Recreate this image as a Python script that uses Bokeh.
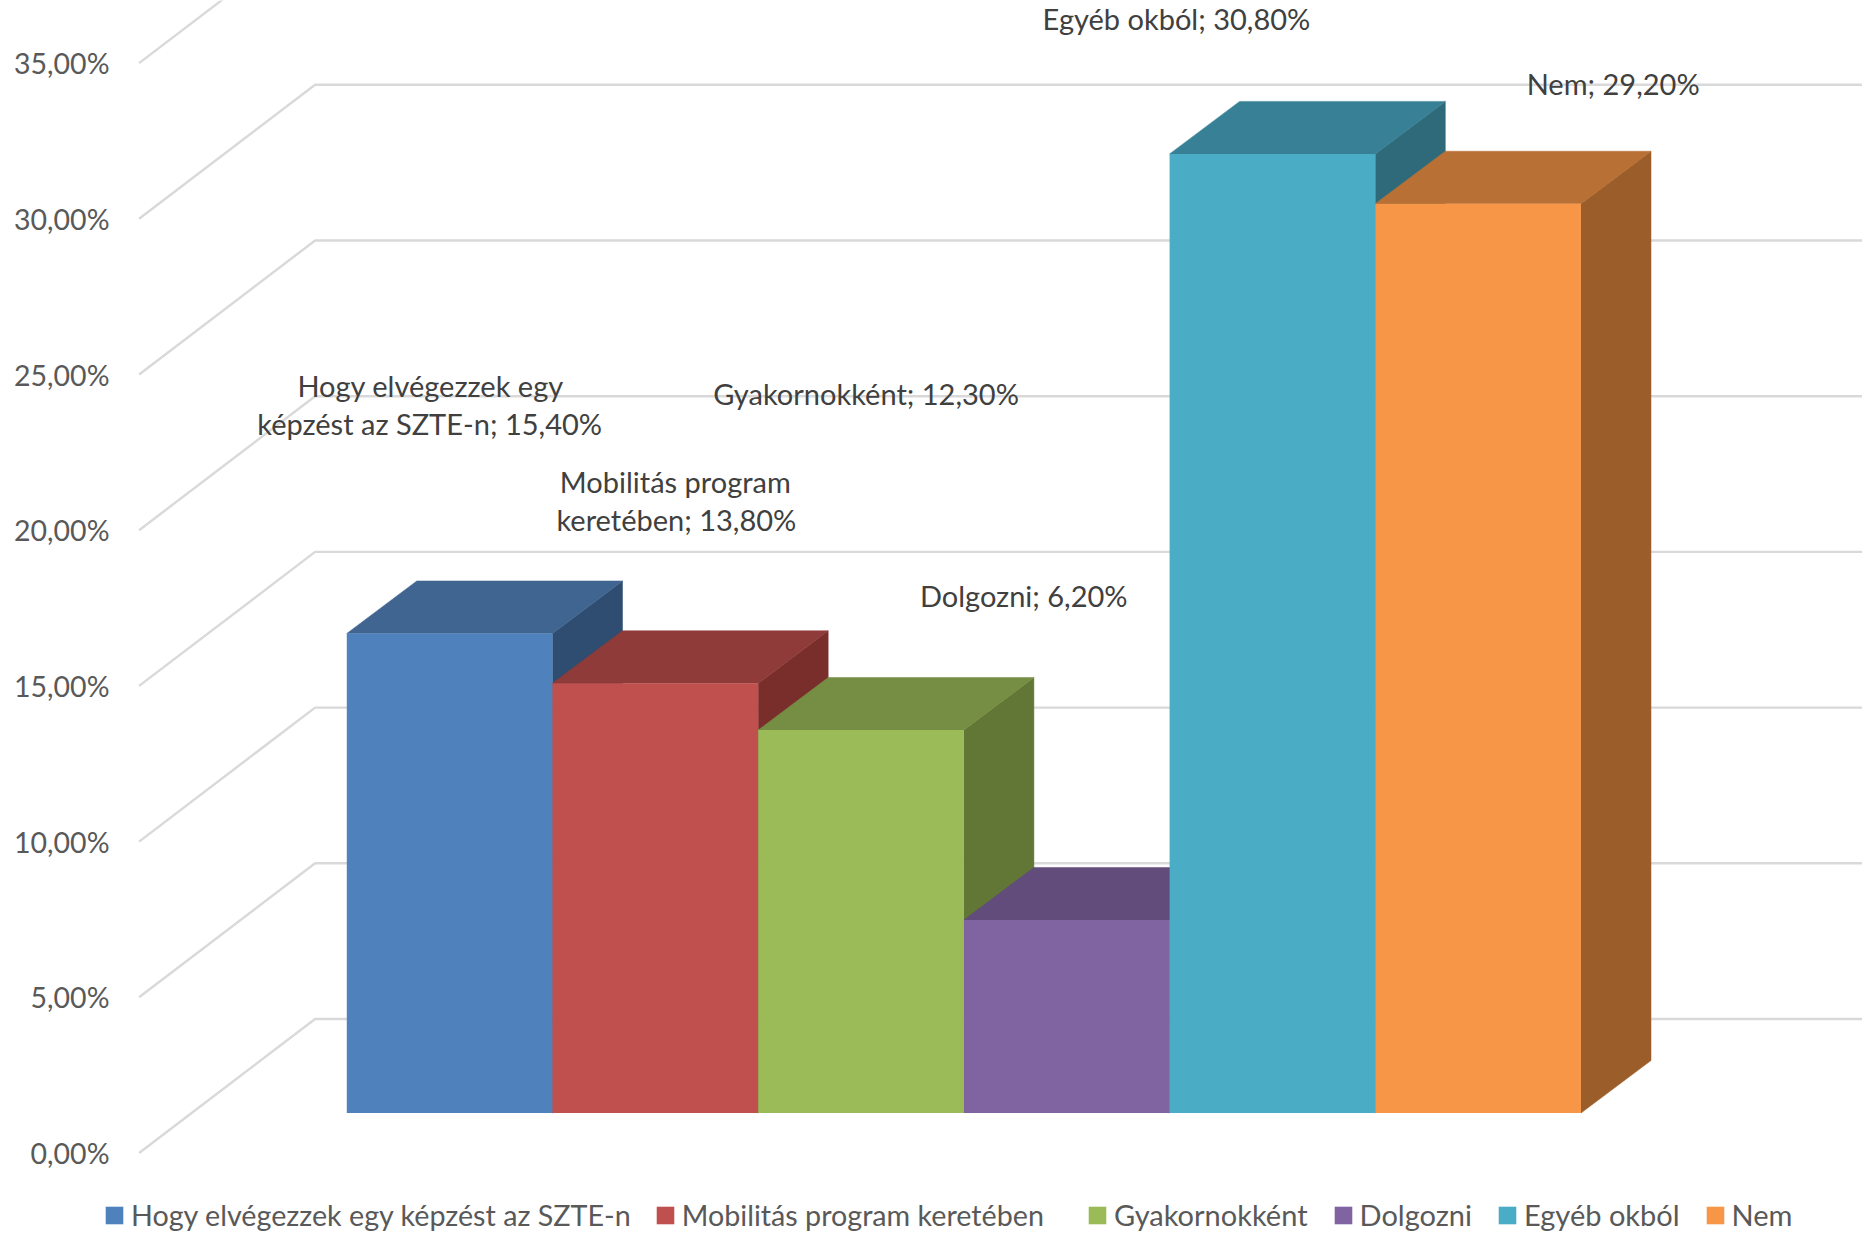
from bokeh.plotting import figure
from bokeh.models import Range1d, ColumnDataSource, Legend, LegendItem
from bokeh.core.properties import value
from bokeh.embed import file_html
from bokeh.resources import INLINE

# --- data -------------------------------------------------------------
categories = ["Hogy elvégezzek egy képzést az SZTE-n", "Mobilitás program keretében",
              "Gyakornokként", "Dolgozni", "Egyéb okból", "Nem"]
values = [15.4, 13.8, 12.3, 6.2, 30.8, 29.2]
ticks = [0, 5, 10, 15, 20, 25, 30, 35]
tick_labels = ["0,00%", "5,00%", "10,00%", "15,00%", "20,00%", "25,00%", "30,00%", "35,00%"]
label_lines = [["Hogy elvégezzek egy", "képzést az SZTE-n; 15,40%"],
               ["Mobilitás program", "keretében; 13,80%"],
               ["Gyakornokként; 12,30%"],
               ["Dolgozni; 6,20%"],
               ["Egyéb okból; 30,80%"],
               ["Nem; 29,20%"]]

# --- styles -----------------------------------------------------------
front_colors = ["#4F81BD", "#C0504D", "#9BBB59", "#8064A2", "#4BACC6", "#F79646"]
top_colors = ["#3F6590", "#8F3B39", "#768E44", "#614C7B", "#388096", "#B97034"]
side_colors = ["#2F4D71", "#7A2E2C", "#627736", "#4F3E64", "#2F6A7B", "#9B5D2A"]
FONT = "Lato"
label_offsets = [[(-19, -247.5), (-20, -210)], [(20, -201.5), (21, -163.5)], [(5, -336.5)],
                 [(-43, -324.5)], [(-96, -135.5)], [(135, -120.5)]]

# --- layout (pixels of one bar / one percent) -------------------------
W, H = 1862, 1233
LEFT_BORDER = 100
PX_U = 205.7      # one category
PX_P = 31.14      # one percent
BAR0_X = 346.3 - LEFT_BORDER   # frame px of first bar's left edge
ZERO_Y = 1152.5                # frame px of the axis zero
frame_w = W - LEFT_BORDER

x_range = Range1d(-BAR0_X / PX_U, (frame_w - BAR0_X) / PX_U)
y_range = Range1d(-(H - ZERO_Y) / PX_P, ZERO_Y / PX_P)

p = figure(width=W, height=H, output_backend="svg", toolbar_location=None,
           x_range=x_range, y_range=y_range,
           min_border_left=LEFT_BORDER, min_border_right=0, min_border_top=0, min_border_bottom=0)
p.outline_line_color = None
p.grid.visible = False
p.xaxis.visible = False

ax = p.yaxis[0]
ax.ticker = ticks
ax.major_label_overrides = dict(zip(ticks, tick_labels))
ax.axis_line_color = None
ax.major_tick_line_color = None
ax.minor_tick_line_color = None
ax.major_label_text_font = FONT
ax.major_label_text_font_size = "28.5px"
ax.major_label_text_color = "#595959"
ax.major_label_standoff = -15

# walls: each gridline runs up the side wall, then along the back wall
wall_x0 = (139 - 346.7) / PX_U
wall_dx = 176 / PX_U
wall_dy = 134 / PX_P
right = x_range.end
p.multi_line(xs=[[wall_x0, wall_x0 + wall_dx, right] for _ in ticks],
             ys=[[t, t + wall_dy, t + wall_dy] for t in ticks],
             line_color="#D9D9D9", line_width=2.4)

# bars: left to right, so the next bar's top covers this bar's side
base = 40 / PX_P
dx = 70 / PX_U
dy = 52.5 / PX_P
items = []
for i, (name, v) in enumerate(zip(categories, values)):
    x0, x1 = i, i + 1
    b, t = base, base + v
    p.patch([x1, x1 + dx, x1 + dx, x1], [b, b + dy, t + dy, t], fill_color=side_colors[i],
            line_color=side_colors[i], line_width=0.5)
    p.patch([x0, x1, x1 + dx, x0 + dx], [t, t, t + dy, t + dy], fill_color=top_colors[i],
            line_color=top_colors[i], line_width=0.5)
    r = p.quad(left=x0, right=x1, bottom=b, top=t, fill_color=front_colors[i], line_color=None)
    items.append(LegendItem(label=name, renderers=[r]))

# data labels, anchored on each bar's top centre
rows = dict(x=[], y=[], text=[], xo=[], yo=[])
for i, v in enumerate(values):
    for line, (ox, oy) in zip(label_lines[i], label_offsets[i]):
        rows["x"].append(i + 0.5)
        rows["y"].append(base + v)
        rows["text"].append(line)
        rows["xo"].append(ox)
        rows["yo"].append(oy)
p.text(x="x", y="y", text="text", x_offset="xo", y_offset="yo", source=ColumnDataSource(rows),
       text_align="center", text_baseline="middle", text_color="#404040",
       text_font=value(FONT), text_font_size="29px")

def add_legend(part, swatch_x, font_px, spacing):
    leg = Legend(items=part, orientation="horizontal", location=(swatch_x - 2 - LEFT_BORDER, 1),
                 border_line_color=None, background_fill_alpha=0,
                 label_text_font=FONT, label_text_font_size=font_px, label_text_color="#595959",
                 glyph_width=22, glyph_height=22, label_standoff=6, spacing=spacing, padding=0, margin=0)
    p.add_layout(leg)

add_legend(items[:2], 105, "28.7px", 23)
add_legend(items[2:], 1088, "29px", 24)

open("out.html", "w").write(file_html(p, INLINE))
